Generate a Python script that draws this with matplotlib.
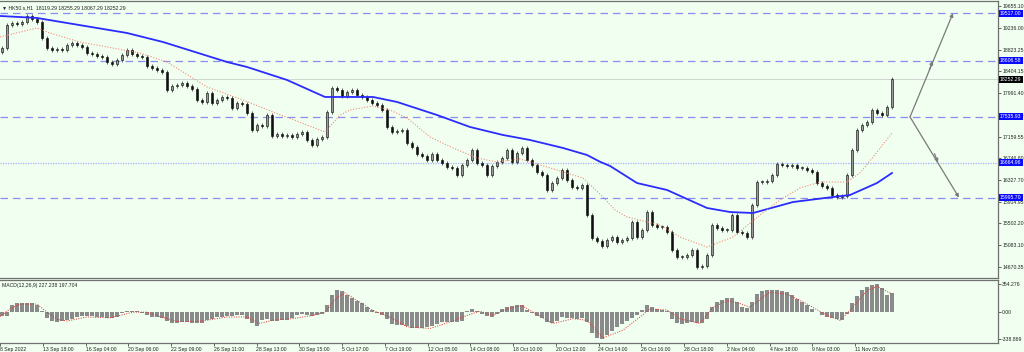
import matplotlib
matplotlib.use('Agg')
import matplotlib.pyplot as plt
import numpy as np

# ---------------- data ----------------
first_open = 18780
closes = [18853, 19292, 19330, 19311, 19349, 19464, 19407, 19349, 19044, 18853,
          18815, 18834, 18815, 18910, 18948, 18910, 18872, 18757, 18738, 18700,
          18681, 18586, 18547, 18624, 18719, 18815, 18738, 18700, 18681, 18509,
          18471, 18433, 18395, 18051, 18127, 18146, 18184, 18127, 18070, 17860,
          17822, 17993, 17802, 17860, 17917, 17898, 17707, 17802, 17783, 17611,
          17287, 17382, 17363, 17573, 17172, 17210, 17172, 17191, 17153, 17210,
          17248, 17096, 17000, 17115, 17153, 17631, 18089, 18051, 17936, 18013,
          18051, 17955, 17917, 17860, 17802, 17764, 17669, 17344, 17248, 17268,
          17287, 17038, 16962, 16829, 16790, 16714, 16829, 16714, 16656, 16580,
          16561, 16427, 16618, 16714, 16905, 16656, 16618, 16427, 16599, 16675,
          16752, 16905, 16675, 16847, 16943, 16714, 16618, 16485, 16427, 16141,
          16274, 16370, 16523, 16332, 16198, 16179, 16236, 15663, 15224, 15167,
          15071, 15186, 15243, 15147, 15186, 15224, 15529, 15243, 15377, 15720,
          15472, 15434, 15434, 15338, 14995, 14861, 14861, 14899, 14995, 14670,
          14689, 14899, 15472, 15415, 15377, 15377, 15663, 15338, 15319, 15243,
          15854, 16294, 16294, 16313, 16427, 16637, 16618, 16599, 16618, 16561,
          16561, 16523, 16485, 16274, 16217, 16179, 16046, 16008, 16027, 16427,
          16905, 17287, 17382, 17439, 17669, 17612, 17573, 17726, 18252]

slow_idx = [-0.4, 7, 25, 32.2, 45, 49, 57, 64.6, 67.6, 74.2, 79, 87, 93.6, 100.2,
            105.6, 112.2, 117, 119.6, 121.6, 127, 133, 141, 145.6, 150.2, 158.2,
            166.2, 169.6, 175, 178]
slow_ma = [19464, 19426, 19139, 18967, 18585, 18490, 18242, 17917, 17917, 17917,
           17822, 17573, 17344, 17191, 17096, 16943, 16809, 16680, 16600, 16274,
           16141, 15797, 15720, 15701, 15911, 16007, 16045, 16274, 16465]

fast_idx = [-0.4, 7, 9.6, 15.6, 27.6, 33, 41, 48.2, 54.2, 61, 64.6, 67.6, 69.6,
            74.2, 77.6, 81, 85.6, 90.2, 95, 99, 103.6, 105.6, 111, 116.2, 120.2,
            122.6, 125, 131.6, 135.6, 141, 146.2, 151.6, 155.6, 159.6, 163.6, 169,
            171.6, 174.2, 178]
fast_ma = [19063, 19235, 19139, 18967, 18757, 18585, 18108, 17860, 17631, 17382,
           17248, 17573, 17669, 17745, 17669, 17516, 17153, 16943, 16752, 16675,
           16733, 16675, 16523, 16370, 16007, 15759, 15625, 15472, 15243, 15052,
           15243, 15663, 15950, 16179, 16294, 16294, 16465, 16771, 17229]

macd_hist = [-50, -45, 95, 113, 115, 110, 112, 95, 20, -70,
             -110, -118, -112, -95, -80, -62, -50, -48, -52, -55,
             -60, -70, -78, -55, -10, 16, 18, 10, -10, -40,
             -55, -65, -78, -110, -139, -130, -122, -128, -135, -138,
             -130, -100, -82, -65, -55, -48, -42, -38, -40, -80,
             -135, -178, -95, -90, -108, -105, -98, -92, -70, -35,
             -18, -35, -48, -40, -20, 90, 215, 272, 265, 215,
             175, 140, 108, 70, 30, -5, -35, -90, -150, -165,
             -163, -178, -195, -203, -198, -188, -178, -150, -125, -120,
             -122, -120, -105, 20, 35, 10, -20, -50, -55, -20,
             35, 69, 80, 90, 88, 30, -15, -45, -75, -125,
             -140, -110, -65, -68, -75, -81, -70, -120, -260, -325,
             -338, -290, -230, -185, -145, -110, -75, -41, 30, 90,
             70, 41, 30, 20, -80, -130, -142, -130, -122, -135,
             -140, -81, 70, 130, 150, 170, 175, 122, 70, 50,
             130, 220, 268, 272, 276, 276, 268, 256, 210, 165,
             130, 95, 45, 5, -30, -55, -78, -90, -100, -20,
             110, 203, 270, 317, 335, 346, 295, 215, 240]

sig_idx = [-0.4, 1.6, 3.6, 7, 9, 11, 13, 17, 21.6, 26.2, 29, 31.6, 35, 39.6, 45,
           49, 51.6, 54.2, 58.2, 62.2, 64.6, 67, 68.6, 74.2, 77.6, 81, 85.6, 89.6,
           93, 95.6, 98.2, 101, 104, 106.2, 110.2, 114.2, 117, 120.2, 124.2, 127.6,
           129.6, 133, 135.6, 139.6, 142.2, 145, 147, 149.6, 153.6, 157, 161, 165,
           167.6, 169.6, 173, 175, 177.6, 178]
sig_vals = [-54, 40, 100, 100, 0, -90, -110, -60, -70, 0, 0, -55, -115, -115, -60,
            -60, -140, -100, -80, -40, 0, 180, 240, 20, -61, -183, -203, -122, -41,
            12, -41, 41, 82, 0, -142, -81, -102, -320, -224, -61, 41, 28, -81, -142,
            61, 142, 122, 61, 250, 224, 102, -41, -102, 20, 270, 320, 240, 224]

dashed_levels = [19517.00, 18606.58, 17535.93, 15995.70]
dotted_level = 16664.96
last_price = 18252.29
price_ticks = [19655.10, 19236.00, 18823.25, 18404.15, 17991.40, 17578.65,
               17159.55, 16746.80, 16327.70, 15914.95, 15502.20, 15083.10, 14670.35]
macd_ticks = [354.276, 0.0, -338.869]
macd_tick_labels = ['354.276', '0.00', '-338.869']
x_labels = ['8 Sep 2022', '13 Sep 18:00', '16 Sep 04:00', '20 Sep 06:00',
            '22 Sep 09:00', '26 Sep 11:00', '28 Sep 13:00', '30 Sep 15:00',
            '5 Oct 17:00', '7 Oct 19:00', '12 Oct 05:00', '14 Oct 08:00',
            '18 Oct 10:00', '20 Oct 12:00', '24 Oct 14:00', '26 Oct 16:00',
            '28 Oct 18:00', '2 Nov 04:00', '4 Nov 18:00', '9 Nov 03:00',
            '11 Nov 05:00']
header = '\u25BC HK50.s,H1  18119.29 18255.29 18067.29 18252.29'
macd_header = 'MACD(12,26,9) 227.238 197.704'

# ---------------- style ----------------
plt.rcParams['font.family'] = ['Liberation Sans', 'DejaVu Sans']
BG = '#f0fff0'
FS = 3.7
W, H = 1024, 352
fig = plt.figure(figsize=(W / 100, H / 100), dpi=100, facecolor=BG)
ax = fig.add_axes([0, 1 - 278 / H, 998 / W, 277 / H], facecolor=BG)
ax2 = fig.add_axes([0, 1 - 342.7 / H, 998 / W, (342.7 - 280) / H], facecolor=BG)

n = len(closes)
idx = np.arange(n)
c = np.array(closes, float)
o = np.concatenate([[first_open], c[:-1]])
wick = 40
hi = np.maximum(o, c) + wick
lo = np.minimum(o, c) - wick

ax.vlines(idx, lo, hi, color='#4a4a4a', lw=0.6, zorder=3)
up = c >= o
body_h = np.maximum(np.abs(c - o), 12)
ax.bar(idx[up], body_h[up], bottom=o[up], width=0.55, color='#9a9a9a',
       edgecolor='#111111', lw=0.45, zorder=4)
ax.bar(idx[~up], body_h[~up], bottom=c[~up], width=0.55, color='#111111',
       edgecolor='#111111', lw=0.45, zorder=4)

ax.plot(slow_idx, slow_ma, color='#2b2bff', lw=1.3, zorder=5)
ax.plot(fast_idx, fast_ma, color='#f08c7c', lw=0.8, ls=(0, (1, 1.5)), zorder=5)

for lv in dashed_levels:
    ax.axhline(lv, color='#8c8cf0', lw=0.9, ls=(0, (6, 4)), zorder=2)
ax.axhline(dotted_level, color='#a8b4f8', lw=0.9, ls=(0, (1, 1)), zorder=2)
ax.axhline(last_price, color='#cfd6cf', lw=0.7, zorder=1)

# projection arrows
x0, xu, xd = 181.6, 190.2, 191.4
arr = dict(arrowstyle='-|>', color='#7a7a7a', lw=0.9, mutation_scale=5,
           shrinkA=0, shrinkB=0)
ax.annotate('', xy=(xu, dashed_levels[0]), xytext=(x0, dashed_levels[2]),
            arrowprops=arr, zorder=6)
ax.annotate('', xy=(xd, dashed_levels[3]), xytext=(x0, dashed_levels[2]),
            arrowprops=arr, zorder=6)
ax.annotate('', xy=(x0 + (xu - x0) * 0.53, dashed_levels[1]),
            xytext=(x0 + (xu - x0) * 0.45, dashed_levels[1] - 170), arrowprops=arr)
ax.annotate('', xy=(x0 + (xd - x0) * 0.57, dotted_level),
            xytext=(x0 + (xd - x0) * 0.50, dotted_level + 170), arrowprops=arr)

ax.set_xlim(-0.4, 199.2)
ax.set_ylim(14460, 19750)
ax.set_xticks([])
ax.yaxis.tick_right()
ax.set_yticks(price_ticks)
ax.set_yticklabels([f'{v:.2f}' for v in price_ticks])
ax.tick_params(axis='y', labelsize=FS, length=2, width=0.5, pad=1,
               colors='#222222')
ax.spines['left'].set_visible(False)
for s in ['top', 'right', 'bottom']:
    ax.spines[s].set_color('#707070')
    ax.spines[s].set_linewidth(0.9)

ytr = ax.get_yaxis_transform()
for lv in dashed_levels + [dotted_level]:
    ax.text(1.002, lv, f'{lv:.2f}', transform=ytr, ha='left', va='center',
            fontsize=FS, color='white', zorder=10, clip_on=False,
            bbox=dict(boxstyle='square,pad=0.2', fc='#0a0aff', ec='none'))
ax.text(1.002, last_price, f'{last_price:.2f}', transform=ytr, ha='left',
        va='center', fontsize=FS, color='white', zorder=10, clip_on=False,
        bbox=dict(boxstyle='square,pad=0.2', fc='black', ec='none'))

ax.text(0.002, 0.985, header, transform=ax.transAxes, ha='left', va='top',
        fontsize=FS, color='#222222', zorder=10)

# ---------------- MACD ----------------
ax2.bar(idx, macd_hist, width=0.9, color='#8a8a8a', lw=0, zorder=2)
ax2.plot(sig_idx, sig_vals, color='#e03030', lw=0.7, ls=(0, (1, 1.5)), zorder=3)
ax2.set_xlim(-0.4, 199.2)
ax2.set_ylim(-380, 400)
ax2.yaxis.tick_right()
ax2.set_yticks(macd_ticks)
ax2.set_yticklabels(macd_tick_labels)
tick_pos = [-0.4 + 8.55 * k for k in range(len(x_labels))]
ax2.set_xticks(tick_pos)
ax2.set_xticklabels(x_labels, ha='left')
ax2.tick_params(axis='both', labelsize=FS, length=2, width=0.5, pad=1,
                colors='#222222')
ax2.spines['left'].set_visible(False)
for s in ['top', 'right', 'bottom']:
    ax2.spines[s].set_color('#707070')
    ax2.spines[s].set_linewidth(0.9)
ax2.text(0.002, 0.96, macd_header, transform=ax2.transAxes, ha='left', va='top',
         fontsize=FS, color='#222222', zorder=10)

fig.savefig('out.png', dpi=100, facecolor=BG)
